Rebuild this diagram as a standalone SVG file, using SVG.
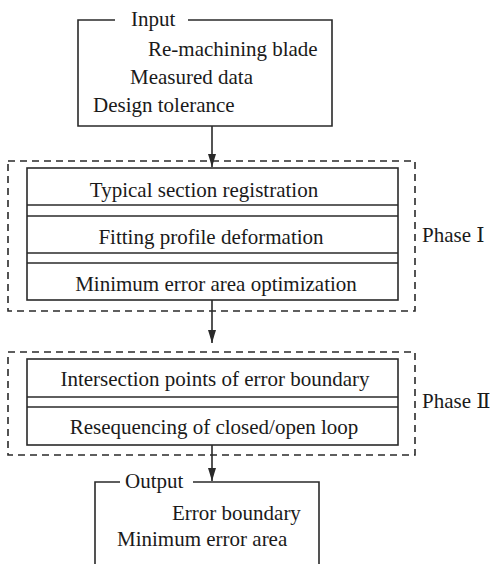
<svg xmlns="http://www.w3.org/2000/svg" width="496" height="564" viewBox="0 0 496 564">
<defs>
<style>
text{font-family:"Liberation Serif","DejaVu Serif",serif;font-size:21px;fill:#1a1a1a}
.ln{fill:none;stroke:#2a2a2a;stroke-width:1.6}
.box{fill:#fff;stroke:#2a2a2a;stroke-width:1.6}
.dash{fill:none;stroke:#2a2a2a;stroke-width:1.6;stroke-dasharray:7 5}
.mid{text-anchor:middle}
</style>
<marker id="ah" viewBox="0 0 13 8" refX="13" refY="4" markerWidth="13" markerHeight="8" markerUnits="userSpaceOnUse" orient="auto">
<path d="M0,0 L13,4 L0,8 Z" fill="#2a2a2a"/>
</marker>
</defs>
<rect width="496" height="564" fill="#fff"/>
<g id="input">
<path class="ln" d="M115,20 H78 V126 H332 V20 H188"/>
<text x="131" y="26">Input</text>
<text x="148" y="56">Re-machining blade</text>
<text x="130" y="84">Measured data</text>
<text x="93" y="112">Design tolerance</text>
</g>
<g id="phase1">
<rect class="dash" x="8" y="161" width="407" height="150"/>
<rect class="box" x="27" y="168" width="371" height="132"/>
<line class="ln" x1="27" y1="205" x2="398" y2="205"/>
<line class="ln" x1="27" y1="216" x2="398" y2="216"/>
<line class="ln" x1="27" y1="253" x2="398" y2="253"/>
<line class="ln" x1="27" y1="263" x2="398" y2="263"/>
<text class="mid" x="204" y="197">Typical section registration</text>
<text class="mid" x="211" y="244">Fitting profile deformation</text>
<text class="mid" x="216" y="291">Minimum error area optimization</text>
<text x="422" y="242">Phase Ⅰ</text>
</g>
<g id="phase2">
<rect class="dash" x="8" y="352" width="407" height="103"/>
<rect class="box" x="27" y="359" width="371" height="86"/>
<line class="ln" x1="27" y1="397" x2="398" y2="397"/>
<line class="ln" x1="27" y1="407" x2="398" y2="407"/>
<text class="mid" x="215" y="386">Intersection points of error boundary</text>
<text class="mid" x="214" y="434">Resequencing of closed/open loop</text>
<text x="422" y="408">Phase Ⅱ</text>
</g>
<g id="output">
<path class="ln" d="M120,482 H95 V564 M319,564 V482 H193"/>
<text x="125" y="488">Output</text>
<text x="172" y="520">Error boundary</text>
<text x="117" y="546">Minimum error area</text>
</g>
<g id="connectors">
<line class="ln" x1="212" y1="126" x2="212" y2="167" marker-end="url(#ah)"/>
<line class="ln" x1="212" y1="300" x2="212" y2="343" marker-end="url(#ah)"/>
<line class="ln" x1="212" y1="445" x2="212" y2="481" marker-end="url(#ah)"/>
</g>
</svg>
